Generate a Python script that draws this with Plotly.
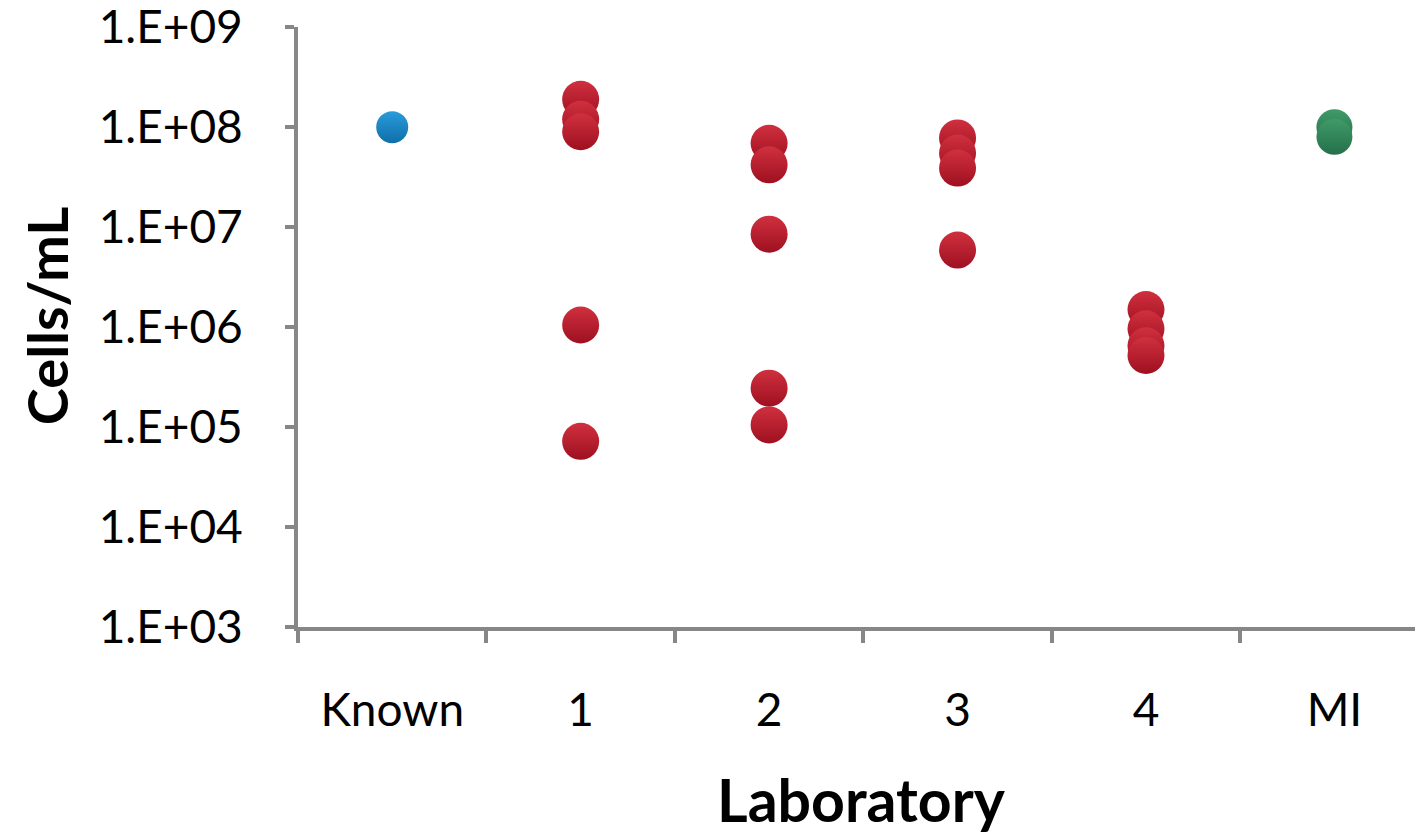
import plotly.graph_objects as go

categories = ["Known", "1", "2", "3", "4", "MI"]

known_x = ["Known"]
known_y = [1.0e8]

lab_x = ["1"] * 5 + ["2"] * 5 + ["3"] * 4 + ["4"] * 4
lab_y = [1.9e8, 1.2e8, 9.0e7, 1.05e6, 7.2e4,
         6.9e7, 4.2e7, 8.5e6, 2.45e5, 1.05e5,
         7.8e7, 5.5e7, 3.9e7, 5.9e6,
         1.5e6, 9.6e5, 6.5e5, 5.2e5]

mi_x = ["MI", "MI"]
mi_y = [1.0e8, 8.0e7]

y_tickvals = [1e3, 1e4, 1e5, 1e6, 1e7, 1e8, 1e9]
y_ticktext = ["1.E+03", "1.E+04", "1.E+05", "1.E+06", "1.E+07", "1.E+08", "1.E+09"]

FONT = "Lato, Open Sans, sans-serif"
AXIS = "#878787"

fig = go.Figure()


def add_series(xs, ys, color, dark, size):
    fig.add_trace(go.Scatter(
        x=xs, y=ys, mode="markers",
        marker=dict(size=size, color=color,
                    gradient=dict(type="vertical", color=dark),
                    line=dict(width=0)),
        showlegend=False, hoverinfo="x+y"))


add_series(known_x, known_y, "#2A9BDB", "#0F6FA8", 32)
add_series(lab_x, lab_y, "#D0303F", "#9E1020", 37)
add_series(mi_x, mi_y, "#3F9A68", "#25704A", 36)

fig.update_layout(
    width=1415, height=827,
    margin=dict(l=290, r=0, t=19, b=208, autoexpand=False),
    paper_bgcolor="white", plot_bgcolor="white",
    font=dict(family=FONT, size=46, color="black"),
    xaxis=dict(
        type="category", categoryorder="array", categoryarray=categories,
        range=[-0.5, 5.47], tickson="boundaries", automargin=False,
        ticks="outside", ticklen=12, tickwidth=4, tickcolor=AXIS,
        showline=True, linewidth=4, linecolor=AXIS,
        showgrid=False, zeroline=False,
        tickfont=dict(size=46), ticklabelstandoff=40,
    ),
    yaxis=dict(
        type="log", range=[3, 9.002], automargin=False,
        tickvals=y_tickvals, ticktext=y_ticktext,
        ticks="outside", ticklen=9, tickwidth=4, tickcolor=AXIS,
        showline=True, linewidth=4, linecolor=AXIS,
        showgrid=False, zeroline=False,
        tickfont=dict(size=46), ticklabelstandoff=33,
        ticklabeloverflow="allow",
    ),
    annotations=[
        dict(text="<b>Laboratory</b>", xref="paper", yref="paper",
             x=0.501, y=-0.288, xanchor="center", yanchor="middle",
             showarrow=False, font=dict(size=59)),
        dict(text="<b>Cells/mL</b>", xref="paper", yref="paper",
             x=-0.224, y=0.518, xanchor="center", yanchor="middle",
             textangle=-90, showarrow=False, font=dict(size=56)),
    ],
)

fig.write_html("out.html")
